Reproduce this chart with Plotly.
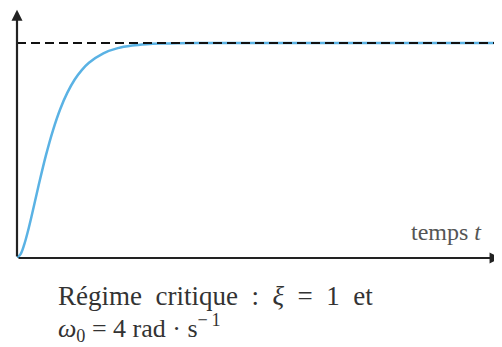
import plotly.graph_objects as go

# values (time in s, normalised response)
t_vals = [0, 0.05, 0.1, 0.15, 0.2, 0.25, 0.3, 0.4, 0.5, 0.6, 0.7, 0.8, 0.9, 1.0,
          1.2, 1.4, 1.6, 1.8, 2.0, 2.5, 3.0, 4.0, 5.0, 6.0, 6.74]
y_vals = [0, 0.018, 0.062, 0.122, 0.191, 0.264, 0.337, 0.475, 0.594, 0.692, 0.769,
          0.829, 0.874, 0.908, 0.952, 0.976, 0.988, 0.994, 0.997, 1.0, 1.0, 1.0,
          1.0, 1.0, 1.0]
final_value = 1.0
x_max = 6.74
y_max = 1.158
x_label = "temps&nbsp;<i>t</i>"
caption1 = ("Régime&nbsp;&nbsp;critique&nbsp;&nbsp;:&nbsp;&nbsp;<i>ξ</i>&nbsp;&nbsp;="
            "&nbsp;&nbsp;1&nbsp;&nbsp;et")
caption2 = ("<i>ω</i><sub>0</sub>&nbsp;=&nbsp;4&nbsp;rad&nbsp;·&nbsp;s<sup>−\u20091</sup>")

# page body has an 8px margin: figure sized so the plot fills the 502x347 window
OFF = 8
W, H = 502 - OFF, 347 - OFF
L, R, T, B = 17 - OFF, 0, 9 - OFF, 347 - 258
PW, PH = W - L - R, H - T - B


def px(xpage):
    return (xpage - 17) / PW


def py(ypage):
    return (258 - ypage) / PH


fig = go.Figure()
fig.add_trace(go.Scatter(x=t_vals, y=y_vals, mode="lines", line_shape="spline",
                         line=dict(color="#5ab2e4", width=2.5), hoverinfo="skip"))
fig.add_trace(go.Scatter(x=[0, x_max], y=[final_value, final_value], mode="lines",
                         line=dict(color="#111111", width=2, dash="9px,5px"), hoverinfo="skip"))

font_serif = "Liberation Serif, DejaVu Serif, serif"
anns = [
    dict(x=x_max * 0.997, y=0, ax=0, ay=0, xref="x", yref="y", axref="x", ayref="y",
         showarrow=True, arrowhead=2, arrowsize=1, arrowwidth=2.2, arrowcolor="#222", text=""),
    dict(x=0, y=y_max * 0.997, ax=0, ay=0, xref="x", yref="y", axref="x", ayref="y",
         showarrow=True, arrowhead=2, arrowsize=1, arrowwidth=2.2, arrowcolor="#222", text=""),
    dict(x=px(409), y=py(232), xref="paper", yref="paper", xanchor="left", yanchor="middle",
         text=x_label, showarrow=False, font=dict(family=font_serif, size=24, color="#555")),
    dict(x=px(56), y=py(296), xref="paper", yref="paper", xanchor="left",
         yanchor="middle", text=caption1, showarrow=False,
         font=dict(family=font_serif, size=27, color="#333")),
    dict(x=px(56), y=py(328), xref="paper", yref="paper", xanchor="left",
         yanchor="middle", text=caption2, showarrow=False,
         font=dict(family=font_serif, size=26, color="#333")),
]

fig.update_layout(
    width=W, height=H, margin=dict(l=L, r=R, t=T, b=B, pad=0),
    paper_bgcolor="white", plot_bgcolor="white", showlegend=False,
    xaxis=dict(range=[0, x_max], visible=False, fixedrange=True),
    yaxis=dict(range=[0, y_max], visible=False, fixedrange=True),
    annotations=anns,
)
fig.write_html("out.html")
